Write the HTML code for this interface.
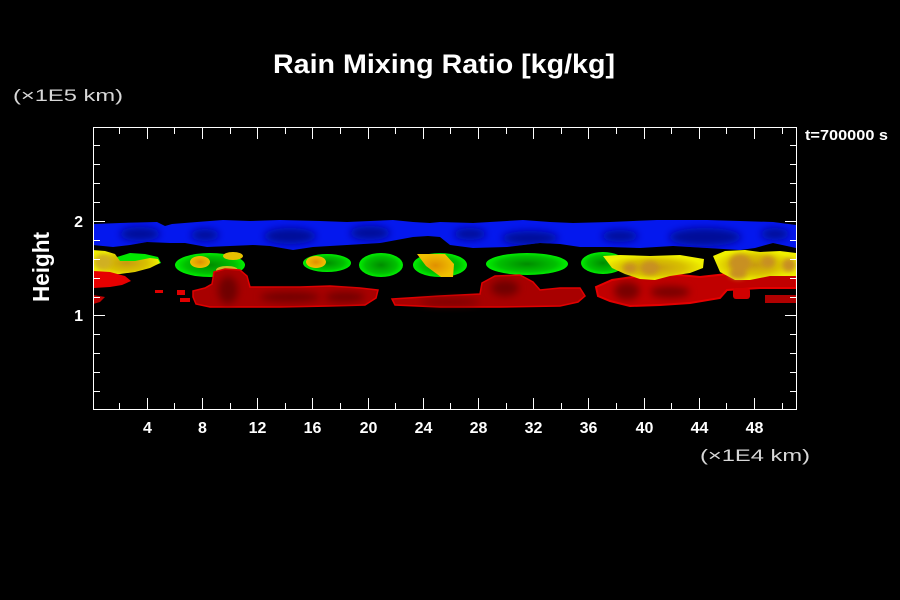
<!DOCTYPE html>
<html><head><meta charset="utf-8"><style>
html,body{margin:0;padding:0;background:#000;}
svg{display:block;}
text{font-family:"Liberation Sans",sans-serif;fill:#fff;}
.b{font-weight:bold;}
</style></head><body>
<svg width="900" height="600" viewBox="0 0 900 600" xmlns="http://www.w3.org/2000/svg">
<defs>
<clipPath id="pc"><rect x="94" y="128" width="702" height="281"/></clipPath>
<filter id="bl4" x="-20%" y="-50%" width="140%" height="200%"><feGaussianBlur stdDeviation="4"/></filter>
<filter id="bl2" x="-20%" y="-50%" width="140%" height="200%"><feGaussianBlur stdDeviation="2.5"/></filter>
<radialGradient id="gG"><stop offset="0" stop-color="#008c00"/><stop offset="0.7" stop-color="#00c000"/><stop offset="1" stop-color="#00f000"/></radialGradient>
<radialGradient id="gY"><stop offset="0" stop-color="#c89a10"/><stop offset="0.6" stop-color="#d8c000"/><stop offset="1" stop-color="#f0f000"/></radialGradient>
<radialGradient id="gO"><stop offset="0" stop-color="#e09000"/><stop offset="1" stop-color="#f0c000"/></radialGradient>
<clipPath id="blueclip"><path d="M93,224 L120,223 L157,222 L165,226 L172,224 L197,222 L223,220 L250,221 L280,220 L320,221 L347,222 L393,220 L413,222 L430,223 L440,222 L473,223 L523,220 L550,222 L573,223 L610,222 L657,220 L707,220 L740,221 L773,222 L796,225 L796,248 L773,243 L755,248 L740,250 L707,248 L673,246 L640,248 L610,247 L580,247 L560,244 L540,243 L507,247 L473,248 L450,245 L440,237 L428,236 L413,237 L380,243 L347,245 L313,247 L293,250 L270,246 L253,245 L230,246 L207,247 L185,243 L170,243 L147,242 L130,245 L113,247 L93,245 Z"/></clipPath>
</defs>

<!-- title -->
<text x="273" y="73" class="b" font-size="27" textLength="342" lengthAdjust="spacingAndGlyphs">Rain Mixing Ratio [kg/kg]</text>
<text x="13" y="101" font-size="17" textLength="110" lengthAdjust="spacingAndGlyphs" style="fill:#d8d8d8">(×1E5 km)</text>
<text x="805" y="140" class="b" font-size="15" textLength="83" lengthAdjust="spacingAndGlyphs">t=700000 s</text>
<text x="700" y="461" font-size="17" textLength="110" lengthAdjust="spacingAndGlyphs" style="fill:#d8d8d8">(×1E4 km)</text>
<text transform="translate(49,267) rotate(-90)" text-anchor="middle" class="b" font-size="23" textLength="70" lengthAdjust="spacingAndGlyphs">Height</text>

<!-- data -->
<g clip-path="url(#pc)">
  <!-- blue band -->
  <g clip-path="url(#blueclip)">
    <rect x="90" y="215" width="710" height="40" fill="#0418ee"/>
    <g filter="url(#bl4)" fill="#000c98">
      <ellipse cx="140" cy="234" rx="20" ry="7"/>
      <ellipse cx="205" cy="235" rx="14" ry="6"/>
      <ellipse cx="290" cy="236" rx="26" ry="8"/>
      <ellipse cx="370" cy="233" rx="20" ry="7"/>
      <ellipse cx="470" cy="234" rx="16" ry="6"/>
      <ellipse cx="530" cy="238" rx="28" ry="7"/>
      <ellipse cx="620" cy="236" rx="18" ry="6"/>
      <ellipse cx="705" cy="237" rx="36" ry="9"/>
      <ellipse cx="775" cy="234" rx="14" ry="6"/>
    </g>
  </g>

  <!-- left yellow region -->
  <path d="M117,257 L130,253 L145,254 L158,257 L161,263 L150,267 L120,268 Z" fill="#00e800"/>
  <path d="M93,250 L105,251 L115,254 L120,261 L135,261 L150,258 L158,259 L160,263 L150,268 L135,272 L120,274 L93,276 Z" fill="url(#gY)"/>
  <ellipse cx="103" cy="262" rx="9" ry="8" fill="#d0b020" filter="url(#bl2)"/>
  <!-- left red -->
  <path d="M93,271 L110,272 L125,276 L131,281 L122,285 L110,287 L93,288 Z" fill="#e60000"/>
  <path d="M93,295 L105,297 L100,302 L93,304 Z" fill="#c00000"/>

  <!-- green blob 2 -->
  <ellipse cx="210" cy="265" rx="35" ry="12" fill="url(#gG)"/>
  <ellipse cx="200" cy="262" rx="10" ry="6" fill="url(#gO)"/>
  <ellipse cx="233" cy="256" rx="10" ry="4" fill="#e8c000"/>
  <ellipse cx="227" cy="270" rx="11" ry="4" fill="#c8c020"/>

  <!-- big dark red left -->
  <path d="M193,291 L205,288 L212,284 L214,272 L225,269 L240,270 L247,276 L250,287 L300,287 L330,286 L360,288 L378,290 L376,298 L365,305 L330,306 L280,307 L240,307 L210,307 L196,304 L193,297 Z" fill="#a80000" stroke="#e00000" stroke-width="1.5"/>
  <g filter="url(#bl4)" fill="#700000">
    <ellipse cx="228" cy="290" rx="10" ry="14"/>
    <ellipse cx="290" cy="297" rx="30" ry="5"/>
    <ellipse cx="345" cy="297" rx="20" ry="5"/>
  </g>
  <rect x="155" y="290" width="8" height="3" fill="#e00000"/>
  <rect x="177" y="290" width="8" height="5" fill="#e00000"/>
  <rect x="180" y="298" width="10" height="4" fill="#e00000"/>

  <!-- green/yellow blob x302-350 -->
  <ellipse cx="327" cy="263" rx="24" ry="9" fill="url(#gG)"/>
  <ellipse cx="316" cy="262" rx="10" ry="6" fill="url(#gO)"/>
  <!-- green blob 3 -->
  <ellipse cx="381" cy="265" rx="22" ry="12" fill="url(#gG)"/>
  <!-- blob x413-468 -->
  <ellipse cx="440" cy="265" rx="27" ry="12" fill="url(#gG)"/>
  <path d="M417,254 L445,254 L454,264 L453,277 L441,277 L426,266 Z" fill="url(#gO)"/>
  <!-- green blob 4 -->
  <ellipse cx="527" cy="264" rx="41" ry="11" fill="url(#gG)"/>

  <!-- mid red strip -->
  <path d="M392,299 L440,296 L480,294 L482,283 L495,276 L520,275 L533,282 L540,290 L560,288 L580,288 L585,296 L578,302 L560,306 L500,307 L440,307 L395,305 Z" fill="#a80000" stroke="#e00000" stroke-width="1.5"/>
  <g filter="url(#bl4)" fill="#700000">
    <ellipse cx="505" cy="288" rx="14" ry="8"/>
    <ellipse cx="450" cy="302" rx="30" ry="3"/>
  </g>

  <!-- right red -->
  <path d="M596,287 L612,280 L640,276 L680,275 L700,277 L727,274 L760,272 L796,272 L796,288 L760,288 L727,290 L720,298 L690,303 L660,305 L630,306 L610,301 L598,296 Z" fill="#c00000" stroke="#e60000" stroke-width="2"/>
  <g filter="url(#bl4)" fill="#780000">
    <ellipse cx="627" cy="291" rx="13" ry="9"/>
    <ellipse cx="670" cy="292" rx="20" ry="6"/>
  </g>
  <rect x="733" y="288" width="17" height="11" rx="3" fill="#d00000"/>
  <rect x="765" y="295" width="31" height="8" fill="#b00000"/>

  <!-- right green / yellow region -->
  <ellipse cx="603" cy="263" rx="22" ry="11" fill="url(#gG)"/>
  <path d="M603,256 L620,255 L650,256 L680,255 L704,259 L703,268 L690,273 L670,276 L655,280 L640,279 L625,274 L612,268 Z" fill="url(#gY)"/>
  <path d="M713,256 L725,251 L745,250 L760,252 L780,251 L796,253 L796,276 L770,276 L750,280 L735,280 L720,272 Z" fill="url(#gY)"/>
  <g filter="url(#bl2)" fill="#c89020">
    <ellipse cx="650" cy="268" rx="9" ry="7"/>
    <ellipse cx="630" cy="268" rx="7" ry="5"/>
    <ellipse cx="740" cy="263" rx="11" ry="9"/>
    <ellipse cx="738" cy="274" rx="9" ry="5"/>
    <ellipse cx="789" cy="265" rx="7" ry="7"/>
    <ellipse cx="768" cy="262" rx="7" ry="6"/>
  </g>
</g>

<!-- frame -->
<rect x="93.5" y="127.5" width="703" height="282" fill="none" stroke="#fff" stroke-width="1"/>

<!-- x ticks bottom & top -->
<g stroke="#fff" stroke-width="1">
<path d="M119.5,409V403M147.5,409V398M174.5,409V403M202.5,409V398M230.5,409V403M257.5,409V398M285.5,409V403M312.5,409V398M340.5,409V403M368.5,409V398M395.5,409V403M423.5,409V398M450.5,409V403M478.5,409V398M506.5,409V403M533.5,409V398M561.5,409V403M588.5,409V398M616.5,409V403M644.5,409V398M671.5,409V403M699.5,409V398M726.5,409V403M754.5,409V398M782.5,409V403"/>
<path d="M119.5,128V134M147.5,128V139M174.5,128V134M202.5,128V139M230.5,128V134M257.5,128V139M285.5,128V134M312.5,128V139M340.5,128V134M368.5,128V139M395.5,128V134M423.5,128V139M450.5,128V134M478.5,128V139M506.5,128V134M533.5,128V139M561.5,128V134M588.5,128V139M616.5,128V134M644.5,128V139M671.5,128V134M699.5,128V139M726.5,128V134M754.5,128V139M782.5,128V134"/>
<path d="M94,145.5H100M94,164.5H100M94,183.5H100M94,202.5H100M94,221.5H105M94,240.5H100M94,259.5H100M94,278.5H100M94,297.5H100M94,315.5H105M94,334.5H100M94,353.5H100M94,372.5H100M94,391.5H100"/>
<path d="M796,145.5H790M796,164.5H790M796,183.5H790M796,202.5H790M796,221.5H785M796,240.5H790M796,259.5H790M796,278.5H790M796,297.5H790M796,315.5H785M796,334.5H790M796,353.5H790M796,372.5H790M796,391.5H790"/>
</g>

<!-- tick labels -->
<g class="b" font-size="16" text-anchor="middle">
<text x="147.5" y="433">4</text>
<text x="202.5" y="433">8</text>
<text x="257.5" y="433">12</text>
<text x="312.5" y="433">16</text>
<text x="368.5" y="433">20</text>
<text x="423.5" y="433">24</text>
<text x="478.5" y="433">28</text>
<text x="533.5" y="433">32</text>
<text x="588.5" y="433">36</text>
<text x="644.5" y="433">40</text>
<text x="699.5" y="433">44</text>
<text x="754.5" y="433">48</text>
</g>
<g class="b" font-size="16" text-anchor="end">
<text x="83" y="227">2</text>
<text x="83" y="321">1</text>
</g>
</svg>
</body></html>
